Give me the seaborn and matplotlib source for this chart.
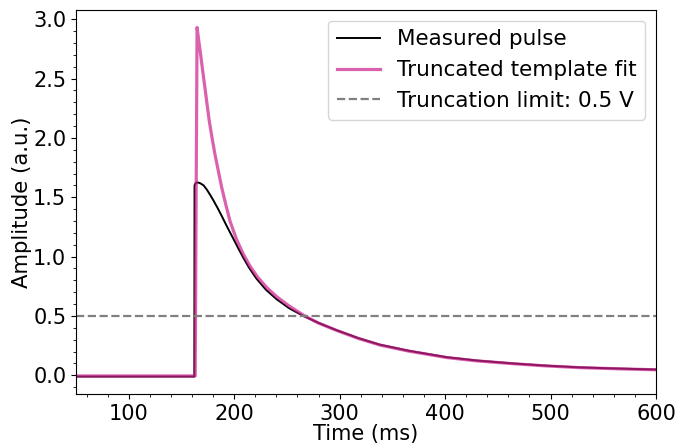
import matplotlib
matplotlib.use("Agg")
import matplotlib.pyplot as plt
import seaborn as sns
import pandas as pd
from matplotlib.ticker import AutoMinorLocator

# Measured pulse (time in ms, amplitude in a.u.)
measured_t = [50, 100, 150, 162.2, 162.4, 163.5, 165.5, 168, 171, 174, 177,
              180.2, 184, 188, 192, 196, 200, 204, 208.7, 214, 221, 230,
              240, 252, 265.6, 280, 297.2, 318, 338.3, 365, 401.5, 430,
              464.7, 495, 528, 565, 600]
measured_v = [-0.01, -0.01, -0.01, -0.01, 1.60, 1.62, 1.625, 1.617, 1.60,
              1.565, 1.523, 1.475, 1.414, 1.346, 1.274, 1.205, 1.137, 1.068,
              0.99, 0.908, 0.816, 0.722, 0.643, 0.566, 0.50, 0.442, 0.38,
              0.313, 0.258, 0.208, 0.153, 0.125, 0.1, 0.082, 0.067, 0.057,
              0.049]

# Truncated template fit
fit_t = [50, 100, 150, 163.0, 164.8, 166.5, 168.2, 170.2, 172.3, 174.3,
         176.4, 179.0, 181.8, 185.0, 188.2, 192.0, 196.0, 202.0, 208.7,
         215.0, 222.0, 230.8, 240.0, 252.0, 265.6, 280.0, 297.2, 318.0,
         338.3, 365.0, 401.5, 430.0, 464.7, 495.0, 528.0, 565.0, 600.0]
fit_v = [-0.005, -0.005, -0.005, -0.005, 2.93, 2.81, 2.70, 2.56, 2.42, 2.28,
         2.14, 2.00, 1.86, 1.72, 1.58, 1.44, 1.30, 1.15, 1.02, 0.92, 0.83,
         0.74, 0.665, 0.585, 0.507, 0.44, 0.378, 0.31, 0.255, 0.205, 0.15,
         0.122, 0.098, 0.08, 0.065, 0.055, 0.047]

truncation_limit = 0.5

plt.rcParams.update({
    "font.family": ["DejaVu Sans"],
    "font.size": 15,
    "xtick.direction": "out",
    "ytick.direction": "out",
    "xtick.major.size": 3.5,
    "ytick.major.size": 3.5,
    "xtick.minor.size": 2,
    "ytick.minor.size": 2,
})

fig, ax = plt.subplots(figsize=(6.75, 4.45), dpi=100)
fig.subplots_adjust(left=0.1126, right=0.9719, top=0.9775, bottom=0.1146)

df_meas = pd.DataFrame({"t": measured_t, "v": measured_v})
df_fit = pd.DataFrame({"t": fit_t, "v": fit_v})

sns.lineplot(data=df_meas, x="t", y="v", ax=ax, color="black", lw=1.4,
             sort=False, estimator=None, label="Measured pulse")
sns.lineplot(data=df_fit, x="t", y="v", ax=ax, color="#cd1e8c", alpha=0.7,
             lw=2.3, sort=False, estimator=None, label="Truncated template fit")
ax.axhline(truncation_limit, color="gray", ls="--", lw=1.6,
           label=f"Truncation limit: {truncation_limit} V")

ax.set_xlim(50, 600)
ax.set_xlabel("Time (ms)", fontsize=15, labelpad=0)
ax.set_ylabel("Amplitude (a.u.)", fontsize=15.3, labelpad=1)
ax.tick_params(axis="both", which="major", labelsize=15)
ax.xaxis.set_minor_locator(AutoMinorLocator())
ax.yaxis.set_minor_locator(AutoMinorLocator())
for s in ax.spines.values():
    s.set_color("black")
    s.set_linewidth(0.8)

ax.legend(loc="upper right", fontsize=15.5, framealpha=0.8)

fig.savefig("out.png", dpi=100)
